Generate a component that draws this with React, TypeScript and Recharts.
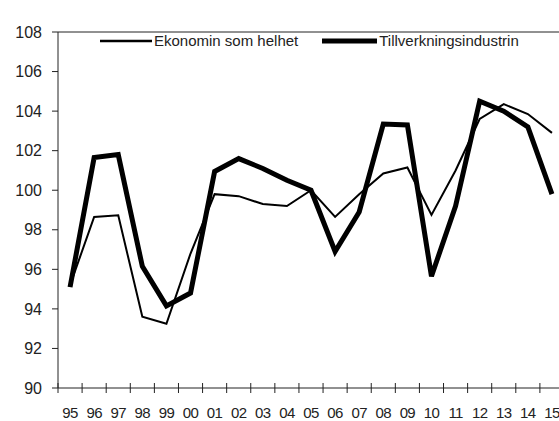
import { LineChart, Line, XAxis, YAxis, ReferenceLine, Legend } from "recharts";

// years 1995–2015, index 2005 = 100
const years = ["95", "96", "97", "98", "99", "00", "01", "02", "03", "04", "05", "06", "07", "08", "09", "10", "11", "12", "13", "14", "15"];
const ekonomin = [95.2, 98.65, 98.73, 93.6, 93.25, 96.8, 99.8, 99.7, 99.3, 99.2, 100.0, 98.65, 99.8, 100.85, 101.15, 98.75, 101.0, 103.6, 104.35, 103.85, 102.9];
const tillverkning = [95.1, 101.65, 101.8, 96.15, 94.15, 94.8, 100.95, 101.6, 101.1, 100.5, 100.0, 96.9, 98.9, 103.35, 103.3, 95.65, 99.2, 104.5, 104.0, 103.2, 99.8];
const yTicks = [90, 92, 94, 96, 98, 100, 102, 104, 106, 108];

const SERIES = [
    { key: "ekonomin", name: "Ekonomin som helhet", width: 2, sample: 52 },
    { key: "tillverkning", name: "Tillverkningsindustrin", width: 5, sample: 55 },
];

const data = years.map((year, i) => ({ year, ekonomin: ekonomin[i], tillverkning: tillverkning[i] }));

const CHART_W = 564;
const CHART_H = 421;
const Y_AXIS_W = 58;
const BW = (CHART_W - Y_AXIS_W) / years.length;
const FONT = "'Liberation Sans', Arial, sans-serif";

function XTick(props: any) {
    const { x, y, payload } = props;
    const left = x - BW / 2;
    return (
        <g>
            <line x1={left} x2={left} y1={y - 5} y2={y + 5} stroke="#222" strokeWidth={1} />
            <text x={x} y={y + 29.5} textAnchor="middle" fontSize={15} letterSpacing={-0.6} fontFamily={FONT} fill="#222">
                {payload.value}
            </text>
        </g>
    );
}

function LegendContent() {
    return (
        <div style={{ display: "flex", alignItems: "center", fontFamily: FONT, fontSize: 15, color: "#222", lineHeight: "16px" }}>
            {SERIES.map((s, i) => (
                <div key={s.key} style={{ display: "flex", alignItems: "center", marginLeft: i === 0 ? 0 : 24 }}>
                    <svg width={s.sample} height={8} style={{ marginRight: 2 }}>
                        <line x1={0} x2={s.sample} y1={4} y2={4} stroke="#000" strokeWidth={s.width === 2 ? 2.5 : 5} />
                    </svg>
                    <span>{s.name}</span>
                </div>
            ))}
        </div>
    );
}

export default function App() {
    return (
        <div style={{ position: "fixed", left: 0, top: 0, width: 559, height: 421, overflow: "hidden", background: "#fff" }}>
            <LineChart width={CHART_W} height={CHART_H} data={data} margin={{ top: 16, right: 0, bottom: 0, left: 0 }}>
                <XAxis
                    dataKey="year"
                    height={33}
                    padding={{ left: BW / 2, right: BW / 2 }}
                    interval={0}
                    tickSize={0}
                    tickMargin={0}
                    tickLine={false}
                    stroke="#222"
                    tick={<XTick />}
                />
                <YAxis
                    width={Y_AXIS_W}
                    domain={[90, 108]}
                    ticks={yTicks}
                    interval={0}
                    tickSize={6}
                    tickMargin={10}
                    stroke="#222"
                    tick={{ fontSize: 16, fontFamily: FONT, fill: "#222" }}
                />
                <ReferenceLine y={108} stroke="#222" strokeWidth={1} />
                <Legend
                    verticalAlign="top"
                    content={<LegendContent />}
                    wrapperStyle={{ position: "absolute", top: 33, left: 100, width: "auto" }}
                />
                {SERIES.map((s) => (
                    <Line
                        key={s.key}
                        type="linear"
                        dataKey={s.key}
                        name={s.name}
                        stroke="#000"
                        strokeWidth={s.width}
                        dot={false}
                        activeDot={false}
                        isAnimationActive={false}
                    />
                ))}
            </LineChart>
        </div>
    );
}
